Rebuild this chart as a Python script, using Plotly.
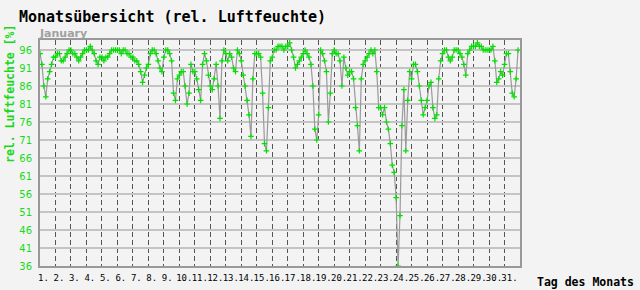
import plotly.graph_objects as go

# Relative humidity (%), 8 readings per day (every 3 h)
days = list(range(1, 32))
humidity_by_day = {
    1:  [95, 92, 86, 83, 88, 90, 92, 94],
    2:  [94, 95, 95, 93, 93, 94, 95, 96],
    3:  [96, 95, 95, 94, 93, 94, 95, 96],
    4:  [96, 96, 97, 96, 95, 93, 92, 94],
    5:  [94, 93, 94, 94, 95, 96, 96, 96],
    6:  [96, 96, 95, 96, 96, 95, 95, 94],
    7:  [94, 93, 93, 92, 90, 87, 89, 91],
    8:  [92, 95, 96, 96, 95, 93, 91, 90],
    9:  [94, 96, 96, 95, 93, 84, 82, 88],
    10: [89, 90, 90, 86, 81, 84, 92, 90],
    11: [90, 88, 85, 82, 92, 95, 93, 89],
    12: [86, 85, 88, 92, 86, 77, 93, 96],
    13: [95, 93, 95, 94, 91, 90, 96, 95],
    14: [93, 89, 86, 82, 78, 72, 88, 95],
    15: [95, 95, 94, 84, 70, 68, 80, 93],
    16: [94, 96, 96, 97, 97, 97, 96, 97],
    17: [97, 98, 96, 94, 91, 92, 93, 94],
    18: [95, 96, 95, 94, 92, 86, 74, 71],
    19: [78, 96, 95, 93, 90, 76, 84, 95],
    20: [96, 95, 95, 93, 86, 94, 91, 89],
    21: [90, 90, 88, 80, 75, 68, 88, 92],
    22: [93, 94, 95, 96, 95, 96, 90, 80],
    23: [80, 78, 80, 76, 74, 70, 64, 62],
    24: [55, 36, 50, 75, 85, 68, 82, 90],
    25: [88, 92, 92, 90, 86, 82, 78, 80],
    26: [82, 86, 87, 80, 77, 78, 88, 93],
    27: [95, 96, 96, 94, 93, 94, 96, 96],
    28: [96, 95, 94, 92, 89, 95, 96, 97],
    29: [97, 97, 98, 97, 97, 96, 96, 96],
    30: [96, 96, 97, 93, 87, 88, 90, 89],
    31: [92, 95, 95, 90, 84, 83, 88, 96],
}
day_labels = [f"{d}." for d in days]
y_ticks = list(range(36, 97, 5))

title_text = "Monatsübersicht (rel. Luftfeuchte)"
month_text = "January"
y_title = "rel. Luftfeuchte [%]"
x_title = "Tag des Monats"

# build time series
xs, ys = [], []
for d in days:
    vals = humidity_by_day[d]
    n = len(vals)
    for k, v in enumerate(vals):
        xs.append(d + k / n)
        ys.append(v)

GREEN = "#00e000"
LABEL_GREEN = "#19d919"
BG = "#f3f3f3"
FRAME = "#999999"

W, H = 640, 290
L, R, T, B = 40, 120, 40, 24
pw, ph = W - L - R, H - T - B

fig = go.Figure()
fig.add_trace(go.Scatter(
    x=xs, y=ys, mode="lines+markers",
    line=dict(color="#9a9a9a", width=1.2),
    marker=dict(symbol="cross-thin", size=4, color=GREEN,
                line=dict(color=GREEN, width=1.2)),
    showlegend=False, hoverinfo="skip",
))

# day labels sit slightly right of each dashed grid line
lab_pos = [d + (0.22 if d < 10 else 0.32) for d in days]
mono = "DejaVu Sans Mono"

fig.update_layout(
    width=W, height=H,
    margin=dict(l=L, r=R, t=T, b=B, pad=0),
    paper_bgcolor=BG, plot_bgcolor=BG,
    title=dict(text=title_text, x=19 / W, y=1 - 17 / H,
               xanchor="left", yanchor="middle", xref="container", yref="container",
               font=dict(family=mono, size=15, color="#000000", weight="bold")),
    xaxis=dict(range=[1, 32], tickvals=days[1:], showticklabels=False,
               showgrid=True, gridcolor="#555555", gridwidth=1, griddash="5px,3px",
               ticks="", zeroline=False, automargin=False,
               showline=True, linecolor=FRAME, linewidth=2, mirror=True),
    xaxis2=dict(range=[1, 32], overlaying="x", side="bottom", anchor="y",
                tickvals=lab_pos, ticktext=day_labels, tickangle=0,
                showgrid=False, zeroline=False, ticks="", automargin=False,
                ticklabelstandoff=5,
                tickfont=dict(family=mono, size=9, color="#000000")),
    yaxis=dict(range=[36, 96 + 10 / 3.6], tickvals=y_ticks,
               showgrid=True, gridcolor="#c4c4c4", gridwidth=1.5,
               zeroline=False, ticks="", ticklabelstandoff=4, automargin=False,
               tickfont=dict(family="DejaVu Sans", size=10, color=LABEL_GREEN),
               showline=True, linecolor=FRAME, linewidth=2, mirror=True),
)

fig.add_trace(go.Scatter(x=[1, 32], y=[36, 36], xaxis="x2", mode="none",
                         showlegend=False, hoverinfo="skip"))

fig.add_annotation(text=y_title, xref="paper", yref="paper",
                   x=(10 - L) / pw, y=(H - B - 94) / ph, textangle=-90,
                   showarrow=False, xanchor="center", yanchor="middle",
                   font=dict(family=mono, size=11.5, color=LABEL_GREEN, weight="bold"))
fig.add_annotation(text=month_text, xref="paper", yref="paper",
                   x=(37 - L) / pw, y=(H - B - 33) / ph,
                   showarrow=False, xanchor="left", yanchor="middle",
                   font=dict(family="DejaVu Sans", size=11, color="#a0a0a0", weight="bold"))
fig.add_annotation(text=x_title, xref="paper", yref="paper",
                   x=(585 - L) / pw, y=(H - B - 282) / ph,
                   showarrow=False, xanchor="center", yanchor="middle",
                   font=dict(family=mono, size=11.5, color="#000000", weight="bold"))

fig.write_html("out.html")
